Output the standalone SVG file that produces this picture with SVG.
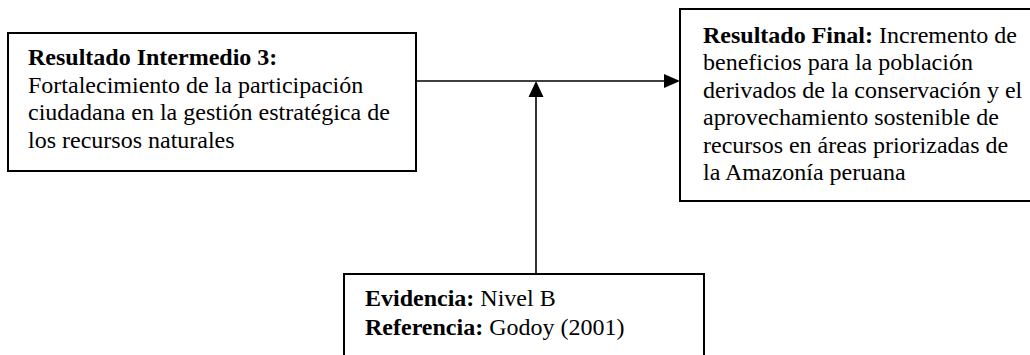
<svg xmlns="http://www.w3.org/2000/svg" width="1030" height="355" viewBox="0 0 1030 355">
<defs>
<style>
.box{fill:#fff;stroke:#000;stroke-width:2}
.t{font-family:"Liberation Serif","Times New Roman",serif;font-size:24px;fill:#000}
.b{font-weight:bold}
.c{stroke:#000;stroke-width:1.6;fill:none}
</style>
</defs>
<g id="connectors">
<line class="c" x1="417" y1="81" x2="664" y2="81"/>
<path d="M664,74 L680,81 L664,88 z" fill="#000"/>
<line class="c" x1="536" y1="273" x2="536" y2="97"/>
<path d="M528.5,97 L536,81 L543.5,97 z" fill="#000"/>
</g>
<g id="node-intermedio">
<rect class="box" x="8" y="33" width="408" height="138"/>
<text class="t" x="28" y="65"><tspan class="b">Resultado Intermedio 3:</tspan></text>
<text class="t" x="28" y="93">Fortalecimiento de la participación</text>
<text class="t" x="28" y="120">ciudadana en la gestión estratégica de</text>
<text class="t" x="28" y="148">los recursos naturales</text>
</g>
<g id="node-final">
<rect class="box" x="680" y="9" width="360" height="192"/>
<text class="t" x="703" y="43"><tspan class="b">Resultado Final:</tspan> Incremento de</text>
<text class="t" x="703" y="70">beneficios para la población</text>
<text class="t" x="703" y="98">derivados de la conservación y el</text>
<text class="t" x="703" y="125">aprovechamiento sostenible de</text>
<text class="t" x="703" y="153">recursos en áreas priorizadas de</text>
<text class="t" x="703" y="180">la Amazonía peruana</text>
</g>
<g id="node-evidencia">
<rect class="box" x="344" y="274" width="360" height="100"/>
<text class="t" x="365" y="306"><tspan class="b">Evidencia:</tspan> Nivel B</text>
<text class="t" x="365" y="335"><tspan class="b">Referencia:</tspan> Godoy (2001)</text>
</g>
</svg>
